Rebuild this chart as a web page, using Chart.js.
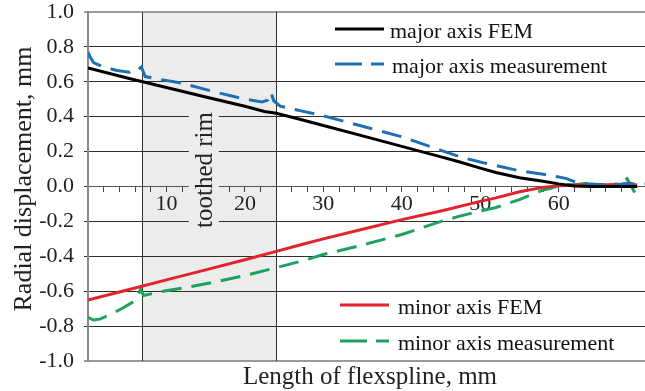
<!DOCTYPE html>
<html>
<head>
<meta charset="utf-8">
<script src="https://cdn.jsdelivr.net/npm/chart.js@4.4.0/dist/chart.umd.min.js"></script>
<style>
  body { margin: 0; background: #fff; }
  #wrap { width: 645px; height: 391px; }
</style>
</head>
<body>
<div id="wrap"><canvas id="myChart" width="645" height="391"></canvas></div>
<script>
// values (x in mm, y in mm)
const majorFemX = [0, 5, 10, 15, 20, 22.5, 24, 27, 30, 35, 40, 45, 47.4, 50, 52, 55, 58, 60, 62, 64, 70];
const majorFemY = [0.68, 0.622, 0.567, 0.513, 0.46, 0.43, 0.42, 0.385, 0.35, 0.29, 0.23, 0.17, 0.14, 0.105, 0.08, 0.05, 0.03, 0.015, 0.003, 0, 0];

const majorMeasX = [0, 0.3, 0.7, 2, 3.7, 5.3, 5.8, 6.3, 6.8, 7.3, 9, 11.7, 15.9, 20, 22.2, 22.9, 23.3, 23.7, 24.5, 27, 30, 35, 40, 45, 47.4, 50, 52, 55, 58, 60, 61, 62.5, 64, 66, 68, 69, 70, 71];
const majorMeasY = [0.77, 0.74, 0.71, 0.685, 0.665, 0.655, 0.67, 0.665, 0.685, 0.63, 0.615, 0.595, 0.545, 0.5, 0.485, 0.495, 0.54, 0.49, 0.46, 0.435, 0.405, 0.345, 0.285, 0.207, 0.17, 0.14, 0.12, 0.09, 0.07, 0.055, 0.045, 0.02, 0.015, 0.01, 0.015, 0.02, 0.01, 0.015];

const minorFemX = [0, 5, 10, 15, 20, 24, 27, 30, 35, 40, 45, 50, 52, 55, 58, 60, 63, 66, 70];
const minorFemY = [-0.65, -0.593, -0.535, -0.478, -0.42, -0.372, -0.335, -0.3, -0.245, -0.19, -0.14, -0.085, -0.065, -0.03, -0.005, 0.005, 0.008, 0.01, 0.01];

const minorMeasX = [0, 0.7, 1.5, 2.8, 4.5, 5.8, 6.4, 6.7, 7.1, 9, 11.7, 15.9, 20, 24, 27, 30, 35, 40, 45, 47.4, 50, 52, 55, 58, 59, 60.5, 62, 64, 66, 67.5, 68.7, 69.7];
const minorMeasY = [-0.75, -0.765, -0.76, -0.735, -0.695, -0.66, -0.62, -0.59, -0.625, -0.605, -0.585, -0.55, -0.51, -0.465, -0.43, -0.39, -0.335, -0.275, -0.2, -0.17, -0.14, -0.12, -0.075, -0.02, -0.01, 0.012, 0.01, 0.02, 0.005, 0.015, 0.045, -0.035];

const xTickLabels = [10, 20, 30, 40, 50, 60, 70];
const rimZone = [6.9, 24];

const serif = '"Liberation Serif", "Times New Roman", serif';
Chart.defaults.font.family = serif;

function pts(xs, ys) {
    return xs.map((x, i) => ({ x: x, y: ys[i] }));
}

function legendItem(ctx, ds, x, y, textX) {
    ctx.save();
    ctx.strokeStyle = ds.borderColor;
    ctx.lineWidth = 3;
    ctx.setLineDash(ds.borderDash ? [27, 9] : []);
    ctx.beginPath();
    ctx.moveTo(x, y);
    ctx.lineTo(x + 49, y);
    ctx.stroke();
    ctx.setLineDash([]);
    ctx.fillStyle = '#111';
    ctx.font = '22px ' + serif;
    ctx.textBaseline = 'alphabetic';
    ctx.fillText(ds.label, textX, y + 9);
    ctx.restore();
}

const extras = {
    id: 'extras',
    beforeDraw(chart) {
        const { ctx, chartArea: a, scales: { x } } = chart;
        const x0 = x.getPixelForValue(rimZone[0]);
        const x1 = x.getPixelForValue(rimZone[1]);
        ctx.save();
        ctx.fillStyle = '#ececec';
        ctx.fillRect(x0, a.top, x1 - x0, a.bottom - a.top);
        ctx.restore();
    },
    beforeDatasetsDraw(chart) {
        const { ctx, chartArea: a, scales: { x } } = chart;
        const x0 = x.getPixelForValue(rimZone[0]);
        const x1 = x.getPixelForValue(rimZone[1]);
        ctx.save();
        ctx.strokeStyle = '#333';
        ctx.lineWidth = 1;
        [x0, x1].forEach(px => {
            ctx.beginPath();
            ctx.moveTo(Math.round(px) + 0.5, a.top);
            ctx.lineTo(Math.round(px) + 0.5, a.bottom);
            ctx.stroke();
        });
        // toothed rim label, sits on the shading and breaks the grid lines
        const cx = x0 + (x1 - x0) * 0.46;
        ctx.fillStyle = '#ececec';
        ctx.fillRect(cx - 15, 103, 30, 134);
        ctx.translate(cx + 8, 170);
        ctx.rotate(-Math.PI / 2);
        ctx.fillStyle = '#222';
        ctx.font = '25px ' + serif;
        ctx.textAlign = 'center';
        ctx.textBaseline = 'alphabetic';
        ctx.fillText('toothed rim', 0, 0);
        ctx.restore();

        // axis titles
        ctx.save();
        ctx.fillStyle = '#222';
        ctx.font = '25px ' + serif;
        ctx.textAlign = 'center';
        ctx.fillText('Length of flexspline, mm', 370, 384);
        ctx.translate(31, 179);
        ctx.rotate(-Math.PI / 2);
        ctx.font = '26px ' + serif;
        ctx.fillText('Radial displacement, mm', 0, 0);
        ctx.restore();
    },
    afterDatasetsDraw(chart) {
        const ctx = chart.ctx;
        const ds = chart.data.datasets;
        legendItem(ctx, ds[0], 335, 29, 390);
        legendItem(ctx, ds[1], 335, 64, 392);
        legendItem(ctx, ds[2], 340, 305, 398);
        legendItem(ctx, ds[3], 340, 341, 398);
    }
};

const ctx = document.getElementById('myChart');

new Chart(ctx, {
    type: 'scatter',
    data: {
        datasets: [{
            label: 'major axis FEM',
            data: pts(majorFemX, majorFemY),
            borderColor: '#000000',
            borderWidth: 3
        }, {
            label: 'major axis measurement',
            data: pts(majorMeasX, majorMeasY),
            borderColor: '#1f6fb2',
            borderWidth: 3,
            borderDash: [20, 10]
        }, {
            label: 'minor axis FEM',
            data: pts(minorFemX, minorFemY),
            borderColor: '#e3232b',
            borderWidth: 3
        }, {
            label: 'minor axis measurement',
            data: pts(minorMeasX, minorMeasY),
            borderColor: '#1fa05e',
            borderWidth: 3,
            borderDash: [20, 10]
        }]
    },
    options: {
        responsive: false,
        animation: false,
        showLine: true,
        elements: {
            point: { radius: 0, hoverRadius: 0 },
            line: { tension: 0, fill: false }
        },
        layout: { padding: { top: 12, bottom: 30, left: 0, right: 0 } },
        plugins: {
            legend: { display: false },
            tooltip: { enabled: false }
        },
        scales: {
            x: {
                type: 'linear',
                position: { y: 0 },
                min: 0,
                max: 71,
                afterFit(scale) {
                    scale.paddingLeft = 0;
                    scale.paddingRight = 0;
                    scale.paddingTop = 0;
                    scale.paddingBottom = 0;
                },
                afterBuildTicks(scale) {
                    scale.ticks = scale.ticks.filter(t => t.value % 2 === 0);
                },
                ticks: {
                    stepSize: 2,
                    autoSkip: false,
                    maxRotation: 0,
                    padding: 0,
                    color: '#222',
                    font: { size: 22 },
                    callback: v => xTickLabels.includes(v) ? String(v) : ''
                },
                grid: {
                    drawOnChartArea: false,
                    drawTicks: true,
                    tickLength: 5,
                    color: '#444'
                },
                border: { color: '#555', width: 1 }
            },
            y: {
                type: 'linear',
                min: -1,
                max: 1,
                afterFit(scale) {
                    scale.width = 88;
                    scale.paddingTop = 0;
                    scale.paddingBottom = 0;
                },
                ticks: {
                    stepSize: 0.2,
                    padding: 10,
                    color: '#222',
                    font: { size: 22 },
                    callback: v => v.toFixed(1)
                },
                grid: {
                    tickLength: 4,
                    color: c => (c.tick && Math.abs(Math.abs(c.tick.value) - 1) < 1e-6) ? '#9a9a9a' : '#2e2e2e',
                    lineWidth: c => (c.tick && Math.abs(Math.abs(c.tick.value) - 1) < 1e-6) ? 2 : 1
                },
                border: { color: '#8a8a8a', width: 2 }
            }
        }
    },
    plugins: [extras]
});
</script>
</body>
</html>
